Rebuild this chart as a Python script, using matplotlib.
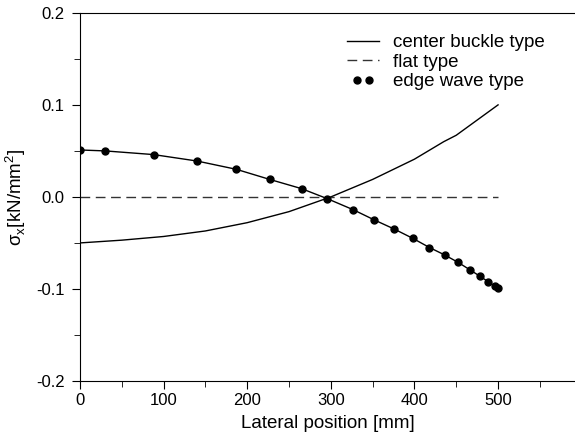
import numpy as np
import matplotlib.pyplot as plt
from matplotlib.ticker import MultipleLocator, FormatStrFormatter
from matplotlib.legend_handler import HandlerLine2D

plt.rcParams['font.family'] = ['Liberation Sans', 'DejaVu Sans']
plt.rcParams['axes.unicode_minus'] = False
plt.rcParams['mathtext.fontset'] = 'custom'
plt.rcParams['mathtext.rm'] = 'Liberation Sans'

# center buckle type
x_center = [0, 50, 100, 150, 200, 250, 300, 350, 400, 435, 450, 500]
y_center = [-0.050, -0.047, -0.043, -0.037, -0.028, -0.016, 0.000, 0.019, 0.041, 0.060, 0.067, 0.100]

# flat type
x_flat = [0, 500]
y_flat = [0.0, 0.0]

# edge wave type
x_edge = [0, 30, 88, 140, 187, 227, 265, 296, 327, 352, 376, 398, 418, 436,
          452, 466, 478, 488, 496, 500]
y_edge = [0.051, 0.050, 0.046, 0.039, 0.030, 0.019, 0.009, -0.002, -0.014, -0.025,
          -0.035, -0.045, -0.055, -0.063, -0.071, -0.079, -0.086, -0.092, -0.097, -0.099]

fig = plt.figure(figsize=(5.75, 4.43), dpi=100)
ax = fig.add_axes([0.139, 0.140, 0.861, 0.831])

ax.plot(x_center, y_center, color='black', lw=1.0, label='center buckle type')
ax.plot(x_flat, y_flat, color='#333333', lw=1.0, dashes=(7, 4), label='flat type')
ax.plot(x_edge, y_edge, color='black', lw=1.0)
edge, = ax.plot(x_edge, y_edge, 'o', color='black', ms=5, label='edge wave type')

ax.set_xlim(0, 592)
ax.set_ylim(-0.2, 0.2)
ax.xaxis.set_major_locator(MultipleLocator(100))
ax.xaxis.set_minor_locator(MultipleLocator(50))
ax.yaxis.set_major_locator(MultipleLocator(0.1))
ax.yaxis.set_minor_locator(MultipleLocator(0.05))
ax.yaxis.set_major_formatter(FormatStrFormatter('%.1f'))
ax.tick_params(which='major', direction='out', length=6, labelsize=12)
ax.tick_params(axis='x', which='major', pad=3)
ax.tick_params(axis='y', which='major', pad=5)
ax.tick_params(which='minor', direction='out', length=4)
ax.spines['right'].set_visible(False)

ax.set_xlabel('Lateral position [mm]', fontsize=13.5, labelpad=5)
ax.set_ylabel('σ$_\\mathregular{x}$[kN/mm$^\\mathregular{2}$]', fontsize=13.5, labelpad=6)

ax.legend(loc='upper right', frameon=False, fontsize=13.5, numpoints=2,
          handlelength=2.3, handletextpad=0.45, borderaxespad=0, labelspacing=0.12,
          bbox_to_anchor=(0.954, 0.962),
          handler_map={edge: HandlerLine2D(marker_pad=0.85)})

fig.savefig('out.png', dpi=100)
